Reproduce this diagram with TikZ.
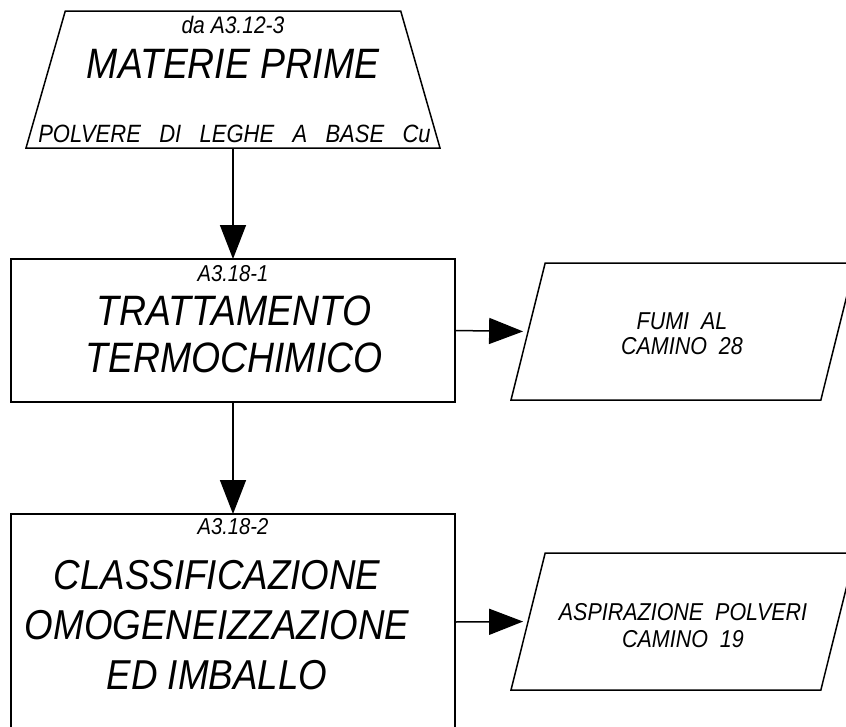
\documentclass[tikz,border=0pt]{standalone}
\usepackage{fontspec}
\setmainfont{Liberation Sans}
\newfontfamily\cadfont[FakeStretch=0.88]{Liberation Sans}
\usetikzlibrary{shapes.geometric,arrows.meta}

\tikzset{
    procbox/.style={draw, rectangle, line width=1.5pt, minimum width=444pt, outer sep=0pt, inner sep=0pt},
    iobox/.style={draw, trapezium, trapezium stretches body=true, line width=1.5pt, outer sep=0pt,
        inner xsep=0pt, inner ysep=68.5pt},
    flow/.style={-{Triangle[length=34pt,width=26pt]}, line width=1.5pt},
    bigtxt/.style={font=\cadfont\itshape\fontsize{42.5}{47}\selectfont, align=center, inner sep=0pt},
    codetxt/.style={font=\cadfont\itshape\fontsize{23}{26}\selectfont, inner sep=0pt},
    outtxt/.style={font=\cadfont\itshape\fontsize{24.4}{25}\selectfont, align=center, inner sep=0pt}
}

\begin{document}
\begin{tikzpicture}[x=1pt, y=-1pt]
    \useasboundingbox (0,0) rectangle (846,726);
    \clip (0,0) rectangle (846,726);

    % Materie prime
    \node[iobox, trapezium left angle=74, trapezium right angle=74,
          minimum width=414pt] (mp) at (233,79.5) {};
    \node[codetxt, font=\cadfont\itshape\fontsize{23.9}{26}\selectfont] (mpcode) at (233,25) {da A3.12-3};
    \node[bigtxt] (mptitle) at (233,64) {MATERIE PRIME};
    \node[codetxt, font=\cadfont\itshape\fontsize{25}{28}\selectfont] (mpnote) at (234.5,133.5)
        {POLVERE~~~DI~~~LEGHE~~~A~~~BASE~~~Cu};

    % Trattamento termochimico
    \node[procbox, minimum height=143pt] (tt) at (233,330.5) {};
    \node[codetxt] (ttcode) at (233,274) {A3.18-1};
    \node[bigtxt] (tttitle) at (234,334.5) {TRATTAMENTO\\TERMOCHIMICO};

    % Classificazione
    \node[procbox, minimum height=216pt] (cl) at (233,622) {};
    \node[codetxt] (clcode) at (233,527) {A3.18-2};
    \node[bigtxt, font=\cadfont\itshape\fontsize{41.8}{50}\selectfont] (cltitle) at (217,625)
        {CLASSIFICAZIONE\\OMOGENEIZZAZIONE\\ED IMBALLO};

    % Emissions
    \node[iobox, trapezium left angle=76, trapezium right angle=104,
          minimum width=344pt] (fumi) at (683,331.5) {};
    \node[outtxt] (fumitxt) at (682,333.5) {FUMI~~AL\\CAMINO~~28};

    \node[iobox, trapezium left angle=76, trapezium right angle=104,
          minimum width=344pt] (asp) at (683,621.5) {};
    \node[outtxt, font=\cadfont\itshape\fontsize{24.4}{27}\selectfont] (asptxt) at (683,625.5)
        {ASPIRAZIONE~~POLVERI\\CAMINO~~19};

    % Flow
    \draw[flow] (mp.south) -- (tt.north);
    \draw[flow] (tt.south) -- (cl.north);
    \draw[flow, shorten >=5pt] (tt.east) -- (fumi.west);
    \draw[flow, shorten >=5pt] (cl.east) -- (asp.west);
\end{tikzpicture}
\end{document}
